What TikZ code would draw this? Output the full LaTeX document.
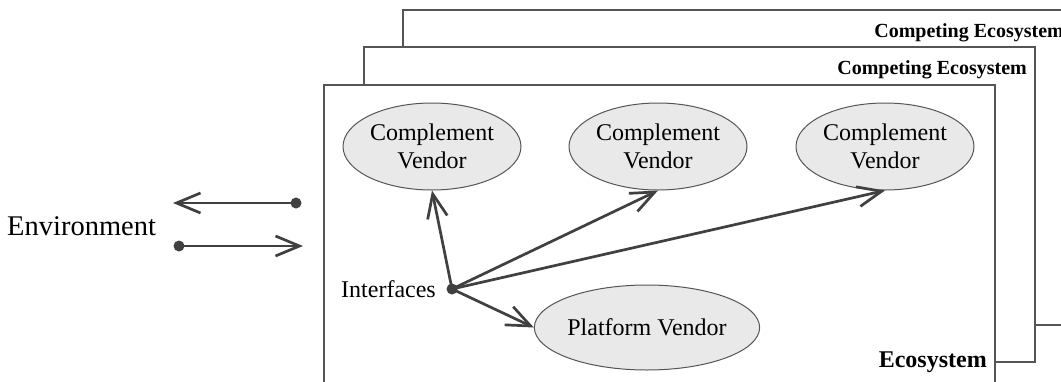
\documentclass[tikz,border=0pt]{standalone}
\usepackage{fontspec}
\setmainfont{Liberation Serif}
\usetikzlibrary{arrows.meta,shapes.geometric}
\definecolor{linegray}{HTML}{404040}
\definecolor{framegray}{HTML}{555555}
\definecolor{bubble}{HTML}{E9E9E9}
\tikzset{
  frame/.style={draw=framegray, line width=1.2pt, fill=white},
  framelabel/.style={font=\bfseries\fontsize{20}{24}\selectfont, inner sep=0pt},
  vendor/.style={ellipse, draw=framegray, line width=1pt, fill=bubble,
    inner sep=0pt, align=center, font=\fontsize{24}{28}\selectfont},
  dot/.style={circle, fill=linegray, inner sep=0pt, minimum size=11pt},
  link/.style={draw=linegray, line width=2.7pt,
    -{Straight Barb[length=24pt,width=20pt]}},
}
\begin{document}
\begin{tikzpicture}[x=1pt,y=-1pt]
\useasboundingbox (0,0) rectangle (1061,381);
\clip (0,0) rectangle (1061,381);

% stacked ecosystem frames, back to front
\draw[frame] (403,10) rectangle (1074,325);
\node[framelabel, anchor=base east] (comp2) at (1064,37) {Competing Ecosystem};
\draw[frame] (364,47) rectangle (1035,362);
\node[framelabel, anchor=base east] (comp1) at (1027,74) {Competing Ecosystem};
\draw[frame] (324,85) rectangle (995,420);
\node[framelabel, font=\bfseries\fontsize{24}{28}\selectfont, anchor=base east]
  (eco) at (987,367) {Ecosystem};

% vendors
\node[vendor, minimum width=178pt, minimum height=87pt] (cv1) at (432,146.5) {Complement\\Vendor};
\node[vendor, minimum width=178pt, minimum height=87pt] (cv2) at (658,146.5) {Complement\\Vendor};
\node[vendor, minimum width=178pt, minimum height=87pt] (cv3) at (885,146.5) {Complement\\Vendor};
\node[vendor, minimum width=220pt, minimum height=85pt] (pv) at (647,327.5) {Platform Vendor};

% interfaces hub
\node[dot] (ifc) at (452,289) {};
\node[anchor=base east, inner sep=0pt, font=\fontsize{24}{28}\selectfont]
  (ifclabel) at (436,297) {Interfaces};
\draw[link] (ifc.center) -- (cv1.south);
\draw[link] (ifc.center) -- (cv2.south);
\draw[link] (ifc.center) -- (cv3.south);
\draw[link] (ifc.center) -- (pv.west);

% environment exchange
\node[anchor=base west, inner sep=0pt, font=\fontsize{28.5}{33}\selectfont]
  (env) at (7,235) {Environment};
\node[dot] (out) at (296,203) {};
\coordinate (outtip) at (173,203);
\draw[link] (out.center) -- (outtip);
\node[dot] (in) at (179,246) {};
\coordinate (intip) at (303,246);
\draw[link] (in.center) -- (intip);
\end{tikzpicture}
\end{document}
